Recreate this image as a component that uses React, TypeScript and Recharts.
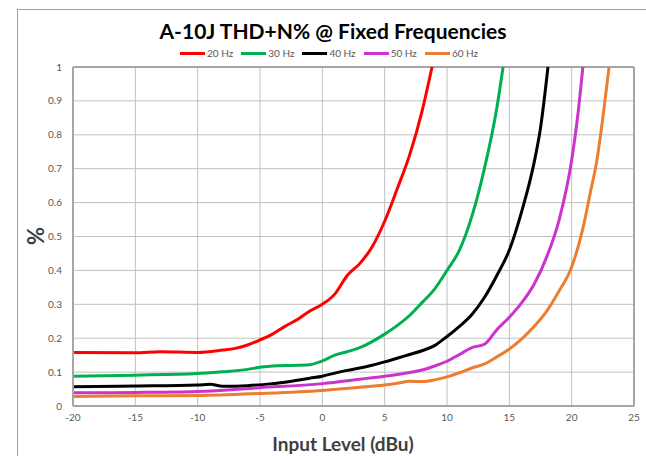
import { LineChart, Line, XAxis, YAxis, CartesianGrid, ReferenceLine } from 'recharts';

const xTicks = [-20, -15, -10, -5, 0, 5, 10, 15, 20, 25];
const yTicks = [0, 0.1, 0.2, 0.3, 0.4, 0.5, 0.6, 0.7, 0.8, 0.9, 1];

// input level (dBu) / THD+N (%) per test frequency
const level20 = [-20, -15, -13, -10, -8, -7, -6, -5, -4, -3, -2, -1, 0, 1, 2, 3, 4, 5, 6, 7, 8, 8.8];
const thd20 = [0.158, 0.157, 0.16, 0.158, 0.165, 0.17, 0.18, 0.195, 0.212, 0.235, 0.255, 0.28, 0.3, 0.33, 0.385, 0.42, 0.47, 0.545, 0.64, 0.74, 0.87, 1.0];

const level30 = [-20, -15, -10, -8, -6, -5, -4, -2, -1, 0, 1, 2, 3, 4, 5, 6, 7, 8, 9, 10, 11, 12, 13, 14, 14.5];
const thd30 = [0.088, 0.091, 0.096, 0.101, 0.108, 0.114, 0.118, 0.12, 0.122, 0.133, 0.15, 0.16, 0.172, 0.19, 0.212, 0.237, 0.267, 0.305, 0.345, 0.4, 0.46, 0.56, 0.7, 0.88, 1.0];

const level40 = [-20, -15, -10, -9, -8, -6, -4, -3, -2, -1, 0, 1, 2, 3, 4, 5, 6, 7, 8, 9, 10, 11, 12, 13, 14, 15, 16, 17, 17.5, 18.1];
const thd40 = [0.057, 0.059, 0.062, 0.064, 0.058, 0.06, 0.066, 0.07, 0.076, 0.082, 0.088, 0.097, 0.105, 0.112, 0.12, 0.13, 0.141, 0.152, 0.163, 0.178, 0.205, 0.235, 0.27, 0.32, 0.385, 0.46, 0.575, 0.72, 0.82, 1.0];

const level50 = [-20, -15, -10, -5, 0, 3, 5, 7, 8, 9, 10, 11, 12, 13, 14, 15, 16, 17, 18, 19, 20, 20.5, 20.9];
const thd50 = [0.039, 0.04, 0.043, 0.054, 0.066, 0.079, 0.088, 0.099, 0.106, 0.118, 0.132, 0.152, 0.172, 0.182, 0.225, 0.262, 0.305, 0.36, 0.44, 0.55, 0.725, 0.86, 1.0];

const level60 = [-20, -15, -10, -5, 0, 3, 5, 6, 7, 8, 9, 10, 11, 12, 13, 14, 15, 16, 17, 18, 19, 20, 21, 21.5, 22, 22.5, 23];
const thd60 = [0.028, 0.03, 0.031, 0.037, 0.046, 0.055, 0.062, 0.067, 0.073, 0.072, 0.077, 0.086, 0.098, 0.112, 0.124, 0.145, 0.168, 0.198, 0.235, 0.28, 0.34, 0.41, 0.54, 0.63, 0.72, 0.85, 1.0];

const series = [
  { key: 'hz20', name: '20 Hz', color: '#ff0000', level: level20, thd: thd20 },
  { key: 'hz30', name: '30 Hz', color: '#00b050', level: level30, thd: thd30 },
  { key: 'hz40', name: '40 Hz', color: '#000000', level: level40, thd: thd40 },
  { key: 'hz50', name: '50 Hz', color: '#cc33cc', level: level50, thd: thd50 },
  { key: 'hz60', name: '60 Hz', color: '#ed7d31', level: level60, thd: thd60 },
];

// merge all series into one table keyed by input level
function buildTable() {
  const rows = new Map<number, Record<string, number>>();
  for (const s of series) {
    s.level.forEach((x, i) => {
      const row = rows.get(x) ?? { x };
      row[s.key] = s.thd[i];
      rows.set(x, row);
    });
  }
  return Array.from(rows.values()).sort((a, b) => a.x - b.x);
}

const data = buildTable();

const FONT = 'Lato, "Open Sans", sans-serif';
const AXIS_GRAY = '#a6a6a6';
const GRID_GRAY = '#c0c0c0';

function LegendRow() {
  return (
    <div style={{ position: 'absolute', left: 180, top: 47, display: 'flex', alignItems: 'center', fontSize: 10, color: '#595959' }}>
      {series.map((s) => (
        <div key={s.name} style={{ display: 'flex', alignItems: 'center', marginRight: 8 }}>
          <span style={{ display: 'inline-block', width: 25, height: 3, background: s.color, marginRight: 2 }} />
          <span>{s.name}</span>
        </div>
      ))}
    </div>
  );
}

export default function App() {
  return (
    <div style={{ position: 'fixed', left: 0, top: 0, width: 646, height: 456, overflow: 'hidden', background: '#fff', fontFamily: FONT }}>
      <div style={{ position: 'absolute', left: 17, top: 9, width: 700, height: 500, border: '1px solid #a0a0a0' }} />
      <div style={{ position: 'absolute', left: 0, top: 18, width: 666, textAlign: 'center', fontSize: 21, fontWeight: 700, color: '#000' }}>
        A-10J THD+N% @ Fixed Frequencies
      </div>
      <div style={{ position: 'absolute', left: 35, top: 236, transform: 'translate(-50%, -50%) rotate(-90deg)', fontSize: 22, fontWeight: 700, color: '#404040' }}>
        %
      </div>
      <div style={{ position: 'absolute', left: 0, top: 432, width: 686, textAlign: 'center', fontSize: 19, fontWeight: 700, color: '#404040' }}>
        Input Level (dBu)
      </div>
      <div style={{ position: 'absolute', left: 0, top: 0 }}>
        <LineChart width={646} height={456} data={data} margin={{ top: 67, right: 12, bottom: 25, left: 33 }}>
          <CartesianGrid stroke={GRID_GRAY} strokeWidth={1} syncWithTicks />
          <XAxis
            type="number"
            dataKey="x"
            domain={[-20, 25]}
            ticks={xTicks}
            interval={0}
            height={25}
            tickMargin={2}
            tickLine={false}
            axisLine={{ stroke: AXIS_GRAY, strokeWidth: 2 }}
            tick={{ fontSize: 10, fill: '#595959', fontFamily: FONT }}
          />
          <YAxis
            type="number"
            domain={[0, 1]}
            ticks={yTicks}
            interval={0}
            width={40}
            tickMargin={5}
            tickLine={false}
            axisLine={{ stroke: AXIS_GRAY, strokeWidth: 2 }}
            tick={{ fontSize: 10, fill: '#595959', fontFamily: FONT }}
          />
          <ReferenceLine y={1} stroke={AXIS_GRAY} strokeWidth={2} ifOverflow="visible" />
          <ReferenceLine x={25} stroke={AXIS_GRAY} strokeWidth={2} ifOverflow="visible" />
          {series.map((s) => (
            <Line
              key={s.key}
              name={s.name}
              dataKey={s.key}
              type="monotone"
              connectNulls
              stroke={s.color}
              strokeWidth={3}
              dot={false}
              activeDot={false}
              isAnimationActive={false}
            />
          ))}
        </LineChart>
      </div>
      <LegendRow />
    </div>
  );
}
